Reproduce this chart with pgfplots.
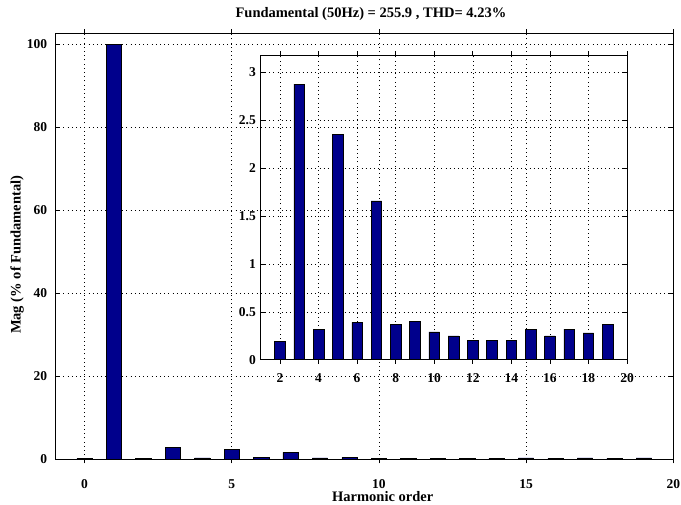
\documentclass[border=0pt]{standalone}
\usepackage{fontspec}
\setmainfont{Liberation Serif}
\usepackage{pgfplots}
\pgfplotsset{compat=1.18}
\definecolor{barblue}{RGB}{0,0,140}
\newcommand{\lbl}{\fontsize{14.5}{16}\selectfont\bfseries}
\newcommand{\tck}{\fontsize{13.5}{15}\selectfont\bfseries}

% harmonic spectrum, % of fundamental
\pgfplotstableread{
h mag
0 0.20
1 100
2 0.19
3 2.88
4 0.32
5 2.35
6 0.39
7 1.66
8 0.37
9 0.40
10 0.29
11 0.25
12 0.20
13 0.20
14 0.20
15 0.32
16 0.25
17 0.32
18 0.28
19 0.37
}\harm

\pgfplotsset{
  matlab/.style={
    scale only axis,
    axis line style={line width=0.8pt},
    tick align=inside,
    major tick length=4pt,
    tick style={black, line width=0.6pt},
    grid=major,
    major grid style={black, line width=0.5pt, dash pattern=on 0.8pt off 3.4pt},
    every tick label/.append style={font=\tck, inner sep=0pt},
    /pgf/number format/assume math mode=true,
    label style={font=\lbl},
    ybar,
  }
}

\begin{document}
\begin{tikzpicture}
\path[use as bounding box] (0,0) rectangle (681pt,505pt);

\begin{axis}[
  matlab,
  at={(55pt,45.7pt)}, anchor=south west,
  width=618.3pt, height=426pt,
  xmin=-1, xmax=20, ymin=0, ymax=102.65,
  xtick={0,5,...,20}, ytick={0,20,...,100},
  bar width=0.52,
  xticklabel style={anchor=base, yshift=-25.5pt},
  yticklabel style={anchor=east, xshift=-7.7pt},
  every axis title shift=0pt,
  title={Fundamental (50Hz) = 255.9 , THD= 4.23\%},
  title style={at={(axis description cs:0.511,1)}, anchor=base, yshift=15.5pt, font=\lbl},
  xlabel={Harmonic order},
  xlabel style={at={(axis description cs:0.53,-0.1)}, anchor=base},
  ylabel={Mag (\% of Fundamental)},
  ylabel style={at={(axis description cs:-0.0555,0.48)}, anchor=base},
]
\addplot[fill=barblue, draw=black, line width=0.5pt] table[x=h, y=mag] {\harm};
\end{axis}

\begin{axis}[
  matlab,
  at={(260.7pt,145.3pt)}, anchor=south west,
  width=366.3pt, height=304.4pt,
  xmin=1, xmax=20, ymin=0, ymax=3.18,
  xtick={2,4,...,20}, ytick={0,0.5,...,3},
  bar width=0.55,
  xticklabel style={anchor=base, yshift=-19pt},
  yticklabel style={anchor=east, xshift=-4.7pt},
]
\addplot[fill=barblue, draw=black, line width=0.5pt,
  restrict x to domain=1.5:19.5] table[x=h, y=mag] {\harm};
\end{axis}
\end{tikzpicture}
\end{document}
